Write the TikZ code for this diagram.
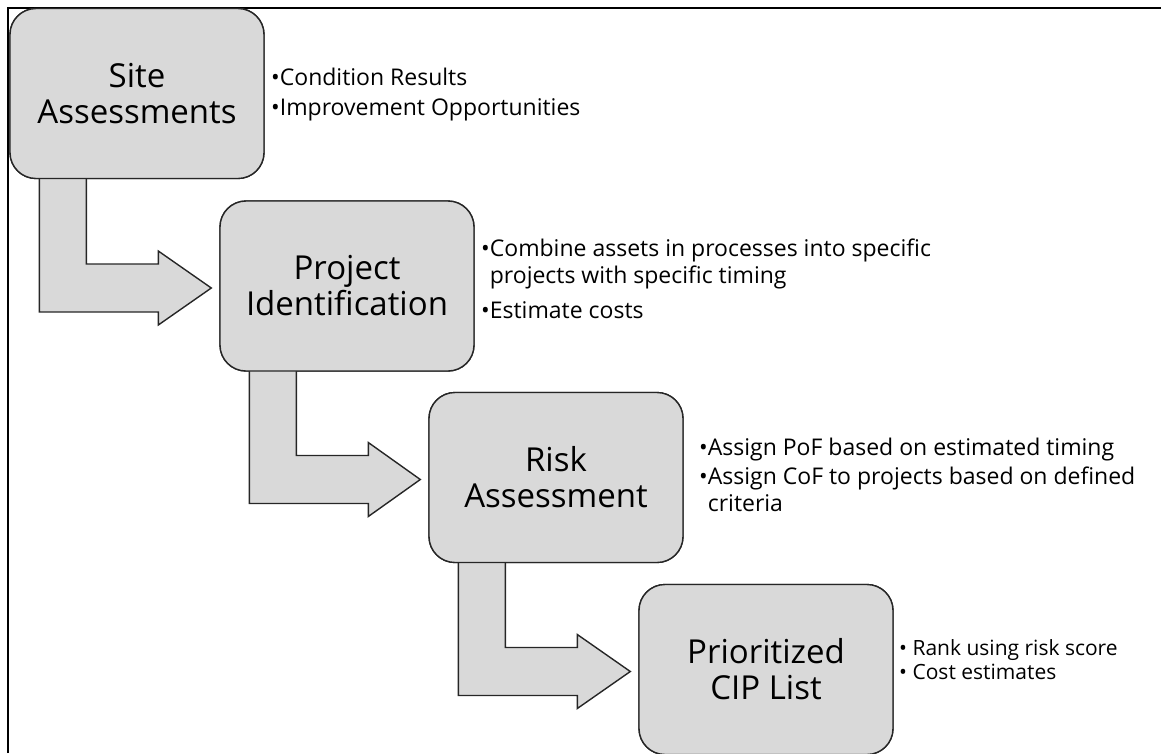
\documentclass[tikz,border=0pt]{standalone}
\usepackage{fontspec}
\setmainfont{Open Sans}
\usetikzlibrary{calc}
\definecolor{boxfill}{HTML}{D9D9D9}
\definecolor{edge}{HTML}{262626}

% bent block arrow leaving the bottom of #1 and pointing at the left side of #2
\newcommand{\bentflow}[2]{%
  \draw[flow] let \p1=(#1.south west), \p2=(#2.west) in
    (\x1+30pt,\y1+4pt) -- (\x1+30pt,\y2-26pt) -- (\x1+149pt,\y2-26pt)
    -- (\x1+149pt,\y2-39pt) -- (\x2-8pt,\y2-2pt) -- (\x1+149pt,\y2+35pt)
    -- (\x1+149pt,\y2+22pt) -- (\x1+77pt,\y2+22pt) -- (\x1+77pt,\y1+4pt) -- cycle;}

\begin{document}
\begin{tikzpicture}[x=1pt,y=1pt,
  stage/.style={draw=edge, line width=1.4pt, fill=boxfill, rounded corners=26pt,
    minimum width=254pt, minimum height=170pt, inner sep=0pt, align=center,
    font=\fontsize{33}{36}\selectfont},
  notes/.style={anchor=west, inner sep=0pt, font=\fontsize{23}{27}\selectfont},
  smallnotes/.style={notes, font=\fontsize{21}{23.5}\selectfont},
  flow/.style={draw=edge, line width=1.4pt, fill=boxfill, line join=miter},
  frame/.style={draw=black, line width=2.4pt}]
\useasboundingbox (0,0) rectangle (1161,-753);

% outer frame: top and left rules only
\coordinate (fa) at (7.8,-753);
\coordinate (fb) at (7.8,-7.8);
\coordinate (fc) at (1161,-7.8);
\draw[frame] (fa) -- (fb) -- (fc);

% stage boxes (positions only; drawn after the arrows below)
\path (137,-93.5)   node[stage] (site) {};
\path (347,-286)    node[stage] (proj) {};
\path (556,-477.5)  node[stage] (risk) {};
\path (766,-669.5)  node[stage] (prio) {};

% arrows between stages
\bentflow{site}{proj}
\bentflow{proj}{risk}
\bentflow{risk}{prio}

% boxes drawn on top of the arrow shafts
\node[stage] (siteB) at (site) {Site\\Assessments};
\node[stage] (projB) at (proj) {Project\\Identification};
\node[stage] (riskB) at (risk) {Risk\\Assessment};
\node[stage] (prioB) at (prio) {Prioritized\\CIP List};

% notes beside each stage
\node[notes] (siteN) at (271,-95) {\begin{tabular}{@{}l@{}l@{}}
  •&Condition Results\\[3pt]
  •&Improvement Opportunities
\end{tabular}};
\node[notes] (projN) at (481,-282) {\begin{tabular}{@{}l@{}l@{}}
  •&Combine assets in processes into specific\\
  &projects with specific timing\\[8pt]
  •&Estimate costs
\end{tabular}};
\node[notes] (riskN) at (699,-478) {\begin{tabular}{@{}l@{}l@{}}
  •&Assign PoF based on estimated timing\\[2pt]
  •&Assign CoF to projects based on defined\\
  &criteria
\end{tabular}};
\node[smallnotes] (prioN) at (899,-663) {\begin{tabular}{@{}l@{}}
  • Rank using risk score\\
  • Cost estimates
\end{tabular}};
\end{tikzpicture}
\end{document}
